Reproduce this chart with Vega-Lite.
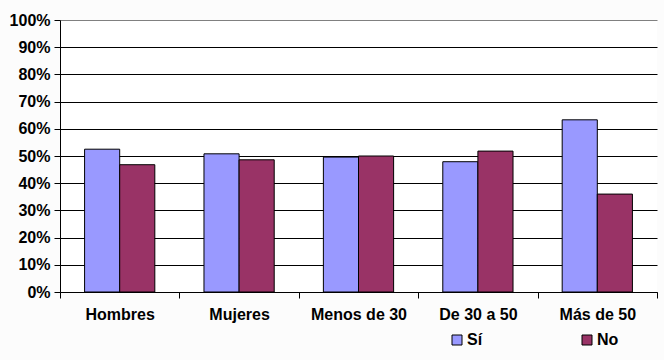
{
  "$schema": "https://vega.github.io/schema/vega-lite/v6.json",
  "width": 597,
  "height": 272,
  "autosize": "none",
  "padding": {"left": 60, "top": 20, "right": 7, "bottom": 68},
  "background": "#fcfcfc",
  "config": {"view": {"stroke": null, "fill": "white"}, "font": "Liberation Sans"},
  "data": {"values": [
    {"grupo": "Hombres", "resp": "Sí", "valor": 0.525},
    {"grupo": "Hombres", "resp": "No", "valor": 0.468},
    {"grupo": "Mujeres", "resp": "Sí", "valor": 0.508},
    {"grupo": "Mujeres", "resp": "No", "valor": 0.486},
    {"grupo": "Menos de 30", "resp": "Sí", "valor": 0.496},
    {"grupo": "Menos de 30", "resp": "No", "valor": 0.5},
    {"grupo": "De 30 a 50", "resp": "Sí", "valor": 0.479},
    {"grupo": "De 30 a 50", "resp": "No", "valor": 0.518},
    {"grupo": "Más de 50", "resp": "Sí", "valor": 0.633},
    {"grupo": "Más de 50", "resp": "No", "valor": 0.36}
  ]},
  "mark": {"type": "bar", "stroke": "black", "strokeWidth": 1},
  "encoding": {
    "x": {
      "field": "grupo", "type": "nominal",
      "sort": ["Hombres", "Mujeres", "Menos de 30", "De 30 a 50", "Más de 50"],
      "scale": {"paddingInner": 0, "paddingOuter": 0},
      "axis": {"title": null, "labelAngle": 0, "domainColor": "black", "tickColor": "black", "tickSize": 6, "tickBand": "extent", "labelPadding": 8, "labelFontSize": 16, "labelFontWeight": "bold", "labelColor": "black", "grid": false}
    },
    "xOffset": {"field": "resp", "sort": ["Sí", "No"], "scale": {"paddingInner": 0, "paddingOuter": 0.7}},
    "y": {
      "field": "valor", "type": "quantitative",
      "scale": {"domain": [0, 1]},
      "axis": {"title": null, "format": "%", "values": [0, 0.1, 0.2, 0.3, 0.4, 0.5, 0.6, 0.7, 0.8, 0.9, 1], "grid": true,
        "gridColor": {"condition": {"test": "datum.value === 1", "value": "#808080"}, "value": "black"},
        "domainColor": "black", "tickColor": "black", "tickSize": 6, "labelPadding": 4, "labelFontSize": 16, "labelFontWeight": "bold", "labelColor": "black"}
    },
    "color": {
      "field": "resp", "type": "nominal", "sort": ["Sí", "No"],
      "scale": {"range": ["#9999ff", "#993366"]},
      "legend": {"title": null, "orient": "none", "legendX": 389, "legendY": 312, "direction": "horizontal", "symbolType": "square", "symbolSize": 100, "symbolStrokeColor": "black", "symbolStrokeWidth": 1, "labelFontSize": 16, "labelFontWeight": "bold", "labelColor": "black", "labelOffset": 2, "columnPadding": 96, "padding": 0}
    }
  }
}
